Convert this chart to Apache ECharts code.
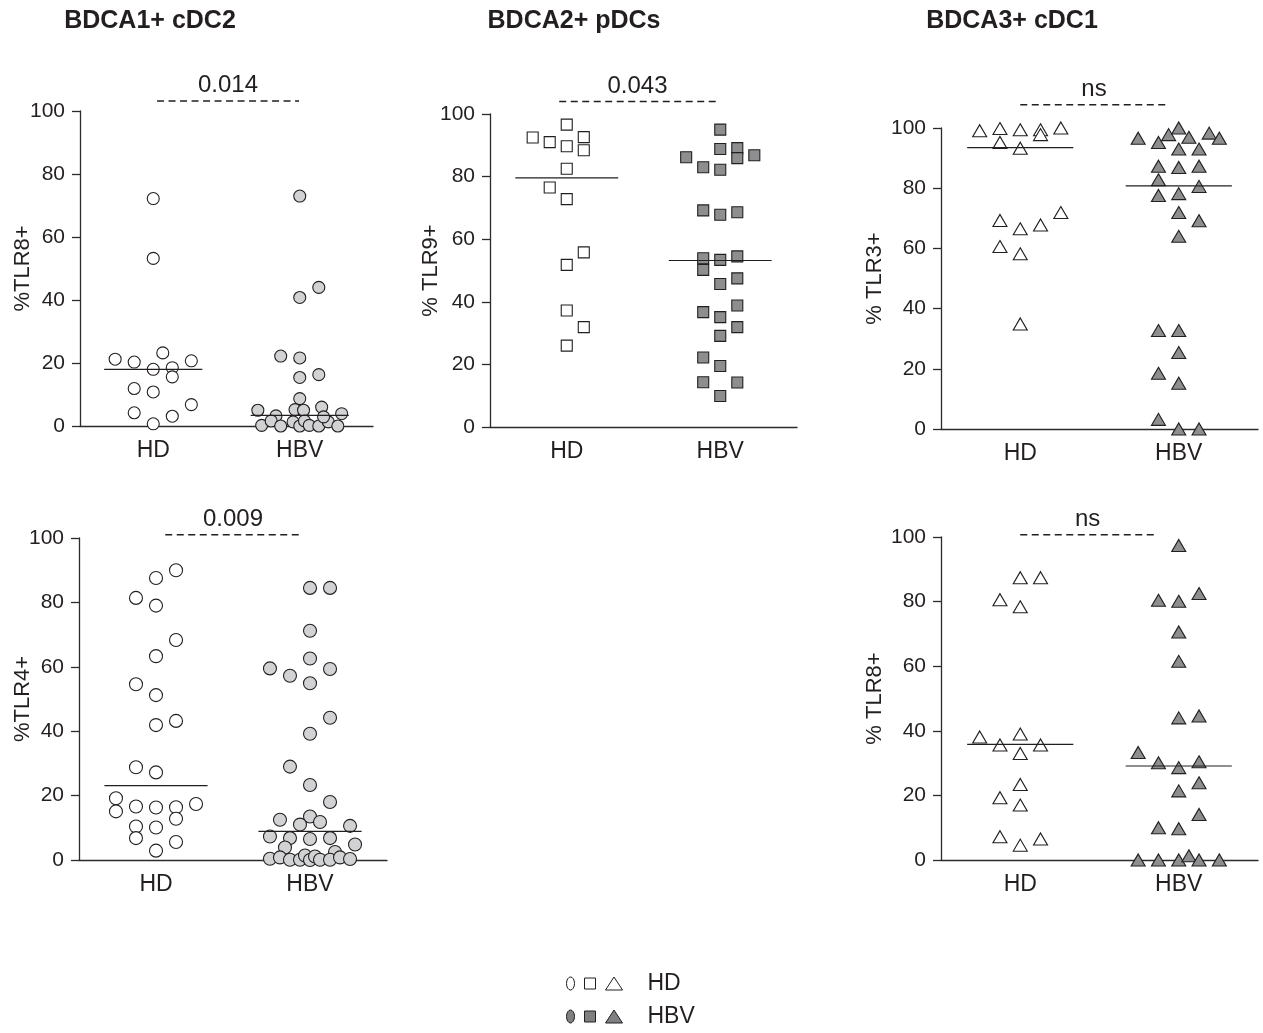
<!DOCTYPE html>
<html><head><meta charset="utf-8">
<script src="https://cdn.jsdelivr.net/npm/echarts@6/dist/echarts.min.js"></script>
<style>html,body{margin:0;padding:0;background:#fff}#chart{width:1263px;height:1033px}</style>
</head><body><div id="chart"></div>
<script>
// ---------------- DATA ----------------
const groups = ['HD', 'HBV'];
const panelTitles = ['BDCA1+ cDC2', 'BDCA2+ pDCs', 'BDCA3+ cDC1'];
const legendLabels = ['HD', 'HBV'];

// BDCA1+ cDC2 — %TLR8+
const cdc2Tlr8Axis = '%TLR8+';
const cdc2Tlr8P = '0.014';
const cdc2Tlr8HD = [72.2, 53.2, 21.2, 20.3, 23.2, 20.7, 18.0, 18.5, 15.6, 11.9, 10.8, 4.2, 6.8, 3.1, 0.7];
const cdc2Tlr8HDSlot = [0, 0, -2, -1, 0.5, 2, 0, 1, 1, -1, 0, -1, 2, 1, 0];
const cdc2Tlr8HBV = [73.0, 40.8, 44.0, 22.2, 21.6, 15.4, 16.3, 8.7, 5.0, 3.2, 5.2, 5.0, 6.0, 3.9, 0.2, 1.6, 0, 1.3, 0, 1.6, 0.2, 0, 1.3, 0, 2.9];
const cdc2Tlr8HBVSlot = [0, 0, 1, -1, 0, 0, 1, 0, -2.2, -1.25, -0.25, 0.2, 1.15, 2.2, -2, -1.5, -1, -0.35, 0, 0.25, 0.5, 1, 1.5, 2, 1.25];
const cdc2Tlr8Median = [18.0, 3.4];

// BDCA2+ pDCs — % TLR9+
const pdcTlr9Axis = '% TLR9+';
const pdcTlr9P = '0.043';
const pdcTlr9HD = [96.6, 92.5, 91.0, 89.7, 92.6, 88.4, 82.5, 76.5, 72.8, 55.8, 51.8, 37.2, 31.9, 26.0];
const pdcTlr9HDSlot = [0, -2, -1, 0, 1, 1, 0, -1, 0, 1, 0, 0, 1, 0];
const pdcTlr9HBV = [95.0, 86.2, 83.0, 88.8, 82.2, 89.1, 85.9, 86.8, 69.2, 67.8, 68.6, 53.9, 50.2, 53.4, 54.5, 45.7, 47.5, 36.7, 35.1, 38.8, 31.9, 29.1, 22.2, 19.5, 14.3, 14.2, 9.9];
const pdcTlr9HBVSlot = [0, -2, -1, 0, 0, 1, 1, 2, -1, 0, 1, -1, -1, 0, 1, 0, 1, -1, 0, 1, 1, 0, -1, 0, -1, 1, 0];
const pdcTlr9Median = [79.6, 53.2];

// BDCA3+ cDC1 — % TLR3+
const cdc1Tlr3Axis = '% TLR3+';
const cdc1Tlr3P = 'ns';
const cdc1Tlr3HD = [99.1, 99.8, 99.4, 99.4, 97.8, 100, 95.2, 93.3, 69.3, 66.5, 67.8, 71.9, 60.6, 58.2, 34.9];
const cdc1Tlr3HDSlot = [-2, -1, 0, 1, 1, 2, -1, 0, -1, 0, 1, 2, -1, 0, 0];
const cdc1Tlr3HBV = [96.6, 95.2, 97.8, 100, 96.9, 98.3, 96.6, 93.0, 93.0, 87.3, 86.9, 87.3, 82.8, 80.6, 77.6, 78.2, 71.9, 69.2, 64.0, 32.7, 32.7, 25.4, 18.5, 15.2, 3.2, 0, 0];
const cdc1Tlr3HBVSlot = [-2, -1, -0.5, 0, 0.5, 1.5, 2, 0, 1, -1, 0, 1, -1, 1, -1, 0, 0, 1, 0, -1, 0, 0, -1, 0, -1, 0, 1];
const cdc1Tlr3Median = [93.5, 80.8];

// BDCA1+ cDC2 — %TLR4+
const cdc2Tlr4Axis = '%TLR4+';
const cdc2Tlr4P = '0.009';
const cdc2Tlr4HD = [90.0, 87.6, 81.4, 79.0, 68.3, 63.3, 54.6, 51.2, 41.9, 43.2, 28.8, 27.2, 19.2, 15.1, 16.6, 16.3, 16.4, 17.4, 12.8, 10.4, 10.1, 6.8, 5.6, 2.9];
const cdc2Tlr4HDSlot = [1, 0, -1, 0, 1, 0, -1, 0, 0, 1, -1, 0, -2, -2, -1, 0, 1, 2, 1, -1, 0, -1, 1, 0];
const cdc2Tlr4HBV = [84.5, 84.5, 71.2, 59.5, 57.2, 62.6, 54.9, 59.3, 44.2, 39.2, 29.0, 23.3, 18.0, 12.5, 13.5, 11.0, 11.8, 10.6, 7.3, 6.8, 6.5, 6.8, 3.9, 4.8, 2.5, 0.4, 0.8, 0.1, 0.1, 1.4, 0, 1.1, 0.1, 0.1, 0.8, 0.3];
const cdc2Tlr4HBVSlot = [0, 1, 0, -2, -1, 0, 0, 1, 1, 0, -1, 0, 1, -1.5, 0, -0.5, 0.5, 2, -2, -1, 0, 1, -1.25, 2.25, 1.25, -2, -1.5, -1, -0.5, -0.25, 0, 0.25, 0.5, 1, 1.5, 2];
const cdc2Tlr4Median = [23.1, 8.9];

// BDCA3+ cDC1 — % TLR8+
const cdc1Tlr8Axis = '% TLR8+';
const cdc1Tlr8P = 'ns';
const cdc1Tlr8HD = [87.4, 87.4, 80.6, 78.4, 38.1, 35.6, 39.0, 35.6, 33.0, 23.4, 19.3, 17.0, 7.2, 4.6, 6.5];
const cdc1Tlr8HDSlot = [0, 1, -1, 0, -2, -1, 0, 1, 0, 0, -1, 0, -1, 0, 1];
const cdc1Tlr8HBV = [97.4, 80.4, 80.1, 82.5, 70.6, 61.5, 44.0, 44.6, 33.3, 30.1, 28.6, 30.4, 23.9, 21.4, 14.1, 10.0, 9.7, 0, 0, 0, 1.3, 0, 0];
const cdc1Tlr8HBVSlot = [0, -1, 0, 1, 0, 0, 0, 1, -2, -1, 0, 1, 1, 0, 1, -1, 0, -2, -1, 0, 0.5, 1, 2];
const cdc1Tlr8Median = [35.8, 29.1];

// ---------------- LAYOUT / STYLE ----------------
const FONT = 'Arial, "Liberation Sans", Helvetica, sans-serif';
const INK = '#231f20';
const AXIS = '#2b2b2b';
const LIGHT = '#d1d2d4';
const DARK = '#8d8e90';

const panels = [
  {axis: cdc2Tlr8Axis, p: cdc2Tlr8P, hd: cdc2Tlr8HD, hdSlot: cdc2Tlr8HDSlot, hbv: cdc2Tlr8HBV, hbvSlot: cdc2Tlr8HBVSlot, med: cdc2Tlr8Median,
   grid: {left: 80, top: 111, width: 293, height: 315}, step: 0.13, nameGap: 46, symbol: 'circle', size: 12, fill: LIGHT, sig: [0.526, 1.495, 103.2]},
  {axis: pdcTlr9Axis, p: pdcTlr9P, hd: pdcTlr9HD, hdSlot: pdcTlr9HDSlot, hbv: pdcTlr9HBV, hbvSlot: pdcTlr9HBVSlot, med: pdcTlr9Median,
   grid: {left: 490, top: 114, width: 307, height: 313}, step: 0.111, nameGap: 48, symbol: 'rect', size: 11, fill: DARK, sig: [0.451, 1.471, 104]},
  {axis: cdc1Tlr3Axis, p: cdc1Tlr3P, hd: cdc1Tlr3HD, hdSlot: cdc1Tlr3HDSlot, hbv: cdc1Tlr3HBV, hbvSlot: cdc1Tlr3HBVSlot, med: cdc1Tlr3Median,
   grid: {left: 941, top: 128, width: 317, height: 301}, step: 0.128, nameGap: 55, symbol: 'triangle', size: [14, 12], fill: DARK, sig: [0.5, 1.43, 107.7]},
  {axis: cdc2Tlr4Axis, p: cdc2Tlr4P, hd: cdc2Tlr4HD, hdSlot: cdc2Tlr4HDSlot, hbv: cdc2Tlr4HBV, hbvSlot: cdc2Tlr4HBVSlot, med: cdc2Tlr4Median,
   grid: {left: 79, top: 538, width: 308, height: 322}, step: 0.13, nameGap: 45, symbol: 'circle', size: 13, fill: LIGHT, sig: [0.56, 1.44, 101]},
  {axis: cdc1Tlr8Axis, p: cdc1Tlr8P, hd: cdc1Tlr8HD, hdSlot: cdc1Tlr8HDSlot, hbv: cdc1Tlr8HBV, hbvSlot: cdc1Tlr8HBVSlot, med: cdc1Tlr8Median,
   grid: {left: 941, top: 537, width: 317, height: 323}, step: 0.128, nameGap: 55, symbol: 'triangle', size: [14, 12], fill: DARK, sig: [0.5, 1.35, 100.7]}
];
const titleX = [150, 574, 1012];
const MED_HALF = 0.335;

// ---------------- BUILD ----------------
const grid = [], xAxis = [], yAxis = [], series = [];
panels.forEach((P, i) => {
  grid.push(Object.assign({containLabel: false}, P.grid));
  xAxis.push({
    type: 'category', gridIndex: i, data: groups, boundaryGap: true,
    axisLine: {lineStyle: {color: AXIS, width: 1.3}},
    axisTick: {alignWithLabel: true, length: 6, lineStyle: {color: AXIS, width: 1.3}},
    axisLabel: {color: INK, fontFamily: FONT, fontSize: 23, margin: 13},
    splitLine: {show: false}
  });
  xAxis.push({type: 'value', gridIndex: i, min: 0, max: 2, show: false, splitLine: {show: false}});
  yAxis.push({
    type: 'value', gridIndex: i, min: 0, max: 100, interval: 20,
    name: P.axis, nameLocation: 'middle', nameGap: P.nameGap, nameMoveOverlap: false,
    nameTextStyle: {color: INK, fontFamily: FONT, fontSize: 22},
    axisLine: {show: true, lineStyle: {color: AXIS, width: 1.3}},
    axisTick: {show: true, length: 8, lineStyle: {color: AXIS, width: 1.3}},
    axisLabel: {color: INK, fontFamily: FONT, fontSize: 21, margin: 15},
    splitLine: {show: false}
  });
  const xi = 2 * i + 1;
  const pts = (vals, slots, c) => vals.map((v, k) => [c + slots[k] * P.step, v]);
  series.push({
    name: 'HD', type: 'scatter', xAxisIndex: xi, yAxisIndex: i, clip: false, z: 3,
    symbol: P.symbol, symbolSize: P.size, data: pts(P.hd, P.hdSlot, 0.5),
    itemStyle: {color: '#ffffff', borderColor: INK, borderWidth: 1.1, opacity: 1}
  });
  series.push({
    name: 'HBV', type: 'scatter', xAxisIndex: xi, yAxisIndex: i, clip: false, z: 3,
    symbol: P.symbol, symbolSize: P.size, data: pts(P.hbv, P.hbvSlot, 1.5),
    itemStyle: {color: P.fill, borderColor: INK, borderWidth: 1.1, opacity: 1}
  });
  P.med.forEach((m, g) => {
    const c = g + 0.5;
    series.push({
      name: 'median', type: 'line', xAxisIndex: xi, yAxisIndex: i, clip: false, z: 4,
      symbol: 'none', silent: true, data: [[c - MED_HALF, m], [c + MED_HALF, m]],
      lineStyle: {color: INK, width: 1.2}
    });
  });
  const [x0, x1, sy] = P.sig;
  series.push({
    name: 'sig', type: 'line', xAxisIndex: xi, yAxisIndex: i, clip: false, z: 4,
    symbol: 'none', silent: true, data: [[x0, sy], [x1, sy]],
    lineStyle: {color: INK, width: 1.5, type: [7, 4.5], opacity: 1}
  });
  series.push({
    name: 'sigText', type: 'scatter', xAxisIndex: xi, yAxisIndex: i, clip: false, z: 4,
    symbolSize: 1, silent: true, data: [[(x0 + x1) / 2, sy]],
    itemStyle: {color: 'transparent', opacity: 1},
    label: {show: true, position: 'top', distance: 3, formatter: P.p, color: INK, opacity: 1, fontFamily: FONT, fontSize: 24}
  });
});

const legendPath = 'path://M4,0 A4,6.5 0 1,1 4,13 A4,6.5 0 1,1 4,0 Z M18,1 L29,1 L29,12 L18,12 Z M47.5,0 L56,13 L39,13 Z';
const legendFills = ['#ffffff', '#7f8082'];
const legendTops = [967, 1000];

const option = {
  animation: false,
  backgroundColor: '#ffffff',
  grid, xAxis, yAxis, series,
  legend: legendLabels.map((lab, k) => ({
    orient: 'vertical', left: 561, top: legendTops[k], itemWidth: 56, itemHeight: 13,
    selectedMode: false,
    textStyle: {color: INK, fontFamily: FONT, fontSize: 23, padding: [0, 0, 0, 20]},
    data: [{name: lab, icon: legendPath, itemStyle: {color: legendFills[k], borderColor: INK, borderWidth: 1, opacity: 1}}]
  })),
  graphic: panelTitles.map((t, k) => ({
    type: 'text', x: titleX[k], y: 21,
    style: {text: t, fill: INK, font: 'bold 25px ' + FONT, align: 'center', verticalAlign: 'middle'}
  }))
};

const chart = echarts.init(document.getElementById('chart'), null, {renderer: 'canvas'});
chart.setOption(option);
</script>
</body></html>
